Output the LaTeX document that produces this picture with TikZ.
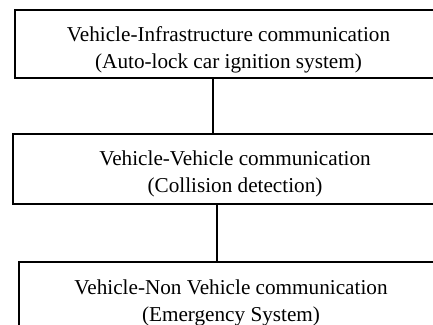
\documentclass[tikz,border=0pt]{standalone}
\usepackage{fontspec}
\setmainfont{Liberation Serif}
\begin{document}
\begin{tikzpicture}[x=1pt, y=-1pt,
  box/.style={draw=black, line width=1.5pt, rectangle, inner sep=0pt},
  lbl/.style={align=center, anchor=base, inner sep=0pt,
    font=\fontsize{21.2pt}{27pt}\selectfont},
  link/.style={draw=black, line width=1.3pt}]
  \useasboundingbox (0,0) rectangle (433,324);

  % three stacked boxes, running off the right edge
  \node[box, minimum width=427pt, minimum height=68pt] (b1) at (228.5,44) {};
  \node[box, minimum width=432pt, minimum height=70pt] (b2) at (229,169) {};
  \node[box, minimum width=426pt, minimum height=70pt] (b3) at (232,297) {};

  % box texts (base anchor sits on the second line)
  \node[lbl] (t1) at (228.5,68) {Vehicle-Infrastructure communication\\(Auto-lock car ignition system)};
  \node[lbl] (t2) at (235,192) {Vehicle-Vehicle communication\\(Collision detection)};
  \node[lbl] (t3) at (231,321) {Vehicle-Non Vehicle communication\\(Emergency System)};

  % vertical links between the boxes
  \coordinate (c1) at (213,0);
  \coordinate (c2) at (217,0);
  \draw[link] (b1.south -| c1) -- (b2.north -| c1);
  \draw[link] (b2.south -| c2) -- (b3.north -| c2);
\end{tikzpicture}
\end{document}
